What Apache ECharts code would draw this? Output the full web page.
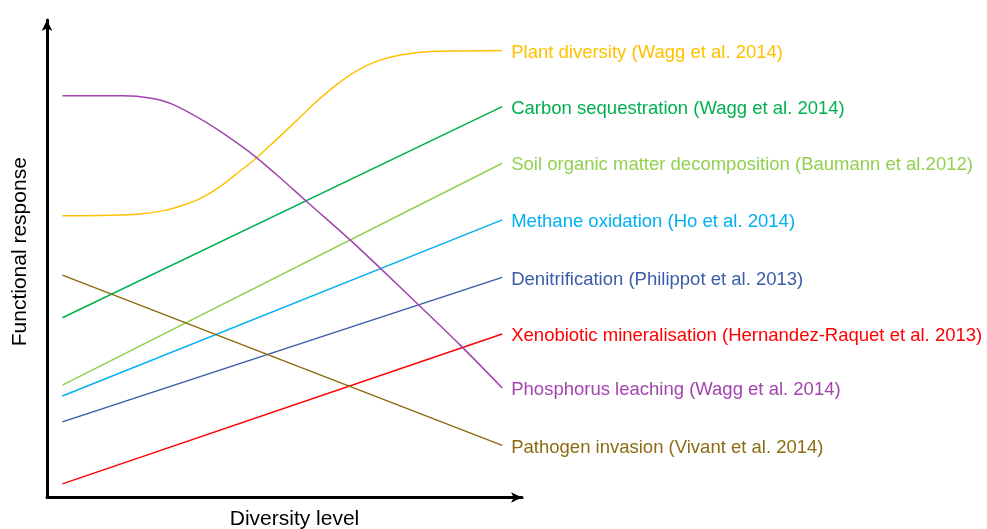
<!DOCTYPE html>
<html>
<head>
<meta charset="utf-8">
<title>Functional response vs diversity level</title>
<script src="https://cdn.jsdelivr.net/npm/echarts@6/dist/echarts.min.js"></script>
<style>
  html, body { margin: 0; padding: 0; background: #ffffff; }
  #chart { width: 987px; height: 529px; }
</style>
</head>
<body>
<div id="chart"></div>
<script>
// Conceptual response curves: x = diversity level (0–10), y = functional response (0–10.5)
const seriesNames = [
  'Plant diversity (Wagg et al. 2014)',
  'Carbon sequestration (Wagg et al. 2014)',
  'Soil organic matter decomposition (Baumann et al.2012)',
  'Methane oxidation (Ho et al. 2014)',
  'Denitrification (Philippot et al. 2013)',
  'Xenobiotic mineralisation (Hernandez-Raquet et al. 2013)',
  'Phosphorus leaching (Wagg et al. 2014)',
  'Pathogen invasion (Vivant et al. 2014)'
];

const seriesColors = ['#FFC000', '#00B050', '#92D050', '#00B0F0', '#3B5CA8', '#FF0000', '#A244AE', '#8C6B12'];

// Sigmoid rise of plant diversity
const plantDiversity = [
  [0, 6.22], [1.08, 6.23], [1.76, 6.26], [2.33, 6.34], [2.79, 6.47], [3.13, 6.60],
  [3.58, 6.86], [4.04, 7.21], [4.38, 7.47], [4.83, 7.87], [5.29, 8.29], [5.74, 8.71],
  [6.20, 9.09], [6.65, 9.40], [7.11, 9.62], [7.68, 9.77], [8.36, 9.85], [9.15, 9.86], [10, 9.87]
];
// Linear increases
const carbonSequestration = [[0, 3.97], [10, 8.63]];
const somDecomposition = [[0, 2.48], [10, 7.38]];
const methaneOxidation = [[0, 2.24], [10, 6.13]];
const denitrification = [[0, 1.67], [10, 4.86]];
const xenobioticMineralisation = [[0, 0.30], [10, 3.61]];
// Inverse sigmoid decline of phosphorus leaching
const phosphorusLeaching = [
  [0, 8.87], [1.38, 8.87], [1.99, 8.82], [2.51, 8.68], [3.29, 8.27], [4.04, 7.78],
  [4.42, 7.50], [4.95, 7.06], [5.56, 6.53], [6.54, 5.69], [7.22, 5.07], [8.06, 4.29],
  [9.04, 3.37], [10, 2.42]
];
// Linear decrease
const pathogenInvasion = [[0, 4.91], [10, 1.15]];

const seriesData = [
  plantDiversity, carbonSequestration, somDecomposition, methaneOxidation,
  denitrification, xenobioticMineralisation, phosphorusLeaching, pathogenInvasion
];
const curved = [true, false, false, false, false, false, true, false];

const FONT = '"Liberation Sans", Arial, sans-serif';

const chart = echarts.init(document.getElementById('chart'), null, { renderer: 'canvas' });

const axisLineStyle = { color: '#000000', width: 3 };

chart.setOption({
  animation: false,
  backgroundColor: '#ffffff',
  grid: {
    left: 47, top: 20, width: 475, height: 477.5,
    containLabel: false,
    outerBoundsMode: 'none'
  },
  xAxis: {
    type: 'value',
    min: -0.35,
    max: 10.45,
    name: 'Diversity level',
    nameLocation: 'middle',
    nameGap: 11,
    nameTextStyle: { color: '#000000', fontSize: 21, fontFamily: FONT, padding: [0, 0, 0, 20] },
    axisLine: { show: true, onZero: false, lineStyle: axisLineStyle, symbol: ['none', 'arrow'], symbolSize: [8, 11] },
    axisTick: { show: false },
    axisLabel: { show: false },
    splitLine: { show: false }
  },
  yAxis: {
    type: 'value',
    min: 0,
    max: 10.544,
    name: 'Functional response',
    nameLocation: 'middle',
    nameGap: 16,
    nameTextStyle: { color: '#000000', fontSize: 21, fontFamily: FONT, padding: [0, 0, 0, 14] },
    axisLine: { show: true, onZero: false, lineStyle: axisLineStyle, symbol: ['none', 'arrow'], symbolSize: [8, 11] },
    axisTick: { show: false },
    axisLabel: { show: false },
    splitLine: { show: false }
  },
  series: seriesNames.map((name, i) => ({
    name: name,
    type: 'line',
    data: seriesData[i],
    smooth: curved[i] ? 0.3 : false,
    showSymbol: false,
    symbol: 'none',
    lineStyle: { color: seriesColors[i], width: 1.5 },
    itemStyle: { color: seriesColors[i] },
    endLabel: {
      show: true,
      formatter: '{a}',
      color: seriesColors[i],
      fontSize: 18.5,
      fontFamily: FONT,
      distance: 9,
      offset: [0, 2]
    },
    emphasis: { disabled: true }
  }))
});
</script>
</body>
</html>
